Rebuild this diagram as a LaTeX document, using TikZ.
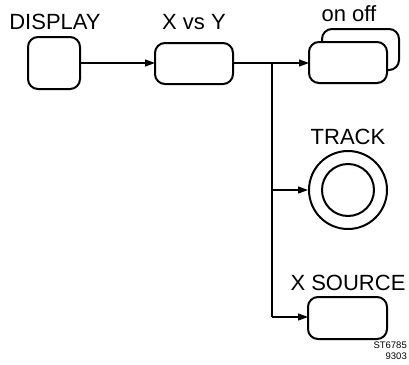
\documentclass[tikz,border=0pt]{standalone}
\usepackage{fontspec}
\setmainfont{Liberation Sans}
\usetikzlibrary{arrows.meta}
\begin{document}
\begin{tikzpicture}[x=1pt,y=-1pt,
  box/.style={draw,line width=2pt,rounded corners=10pt},
  conn/.style={line width=1.2pt},
  arr/.style={conn,-{Triangle[length=10pt,width=7pt]}},
  lbl/.style={font=\fontsize{22}{22}\selectfont,inner sep=0pt},
  tiny/.style={font=\fontsize{9.5}{10}\selectfont,inner sep=0pt,anchor=east}]
\useasboundingbox (0,0) rectangle (409,364);
\draw[box] (28,37) rectangle (80,89);
\coordinate (dispR) at (80,63);
\node[lbl] (tdisp) at (55,22) {DISPLAY};
\draw[box] (155,43) rectangle (233,84);
\coordinate (xyL) at (155,63);
\coordinate (xyR) at (233,63);
\node[lbl] (txy) at (194,22) {X vs Y};
% on off
\draw[box,fill=white] (322,29) rectangle (399,70);
\draw[box,fill=white] (309,42) rectangle (387,83);
\coordinate (onL) at (309,63);
\node[lbl] (ton) at (349,14) {on off};
% track
\node[circle,draw,line width=2pt,minimum size=78pt,inner sep=0pt] (trk) at (348,190) {};
\node[circle,draw,line width=2pt,minimum size=52pt,inner sep=0pt] (trki) at (348,190) {};
\node[lbl] (ttrk) at (348,137) {TRACK};
% x source
\draw[box] (308,297) rectangle (387,339);
\coordinate (xsL) at (308,317);
\node[lbl] (txs) at (348,283) {X SOURCE};
\node[tiny] (st) at (407,345) {ST6785};
\node[tiny] (dt) at (407,356) {9303};
% connectors
\coordinate (j) at (272,63);
\coordinate (jb) at (272,317);
\coordinate (jt) at (272,190);
\draw[arr] (dispR) -- (xyL);
\draw[arr] (xyR) -- (onL);
\draw[conn] (j) -- (jb);
\draw[arr] (jt) -- (trk.west);
\draw[arr] (jb) -- (xsL);
\end{tikzpicture}
\end{document}
